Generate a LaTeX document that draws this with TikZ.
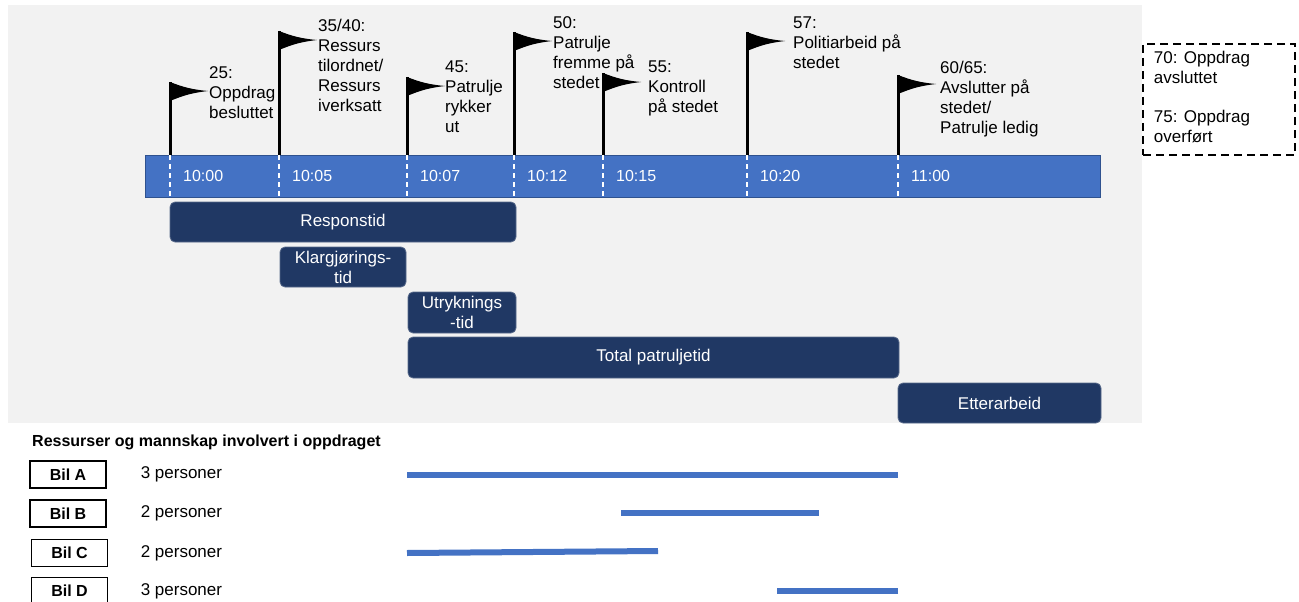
\documentclass[tikz,border=0pt]{standalone}
\usepackage{fontspec}
\setmainfont{Liberation Sans}
\usetikzlibrary{positioning}

\definecolor{axisblue}{HTML}{4472C4}
\definecolor{axisedge}{HTML}{2F528F}
\definecolor{phasenavy}{HTML}{203864}
\definecolor{bggray}{HTML}{F2F2F2}

\begin{document}
\begin{tikzpicture}[x=1pt,y=-1pt]
\tikzstyle{every node}+=[inner sep=0pt, font=\fontsize{17}{20}\selectfont]
\tikzstyle{pole}=[line width=3pt, black]
\tikzstyle{tickline}=[white, line width=2pt, dash pattern=on 5pt off 4pt]
\tikzstyle{flaglabel}=[anchor=north west, align=left]
\tikzstyle{timelabel}=[anchor=west, text=white, font=\fontsize{16}{19}\selectfont]
\tikzstyle{phase}=[fill=phasenavy, draw=phasenavy!75!white, line width=0.8pt, rounded corners=5pt, text=white, align=center]
\tikzstyle{bilbox}=[draw, line width=1.2pt, minimum width=76pt, minimum height=27pt, font=\fontsize{16}{19}\selectfont\bfseries]
\tikzstyle{persons}=[font=\fontsize{17}{20}\selectfont]
\tikzstyle{crew}=[axisblue, line width=6pt]
\useasboundingbox (0,0) rectangle (1299,602);
\fill[white] (0,0) rectangle (1299,602);
\fill[bggray] (8,5) rectangle (1142,423);

% time axis
\node[fill=axisblue, draw=axisedge, line width=0.8pt, minimum width=955pt, minimum height=42pt] (axis) at (622.5,176) {};

% flag texts
\node[flaglabel] (l25) at (209,66) {25:\\Oppdrag\\besluttet};
\node[flaglabel] (l3540) at (318,19) {35/40:\\Ressurs\\tilordnet/\\Ressurs\\iverksatt};
\node[flaglabel] (l45) at (445,61) {45:\\Patrulje\\rykker\\ut};
\node[flaglabel] (l50) at (553,16) {50:\\Patrulje\\fremme på\\stedet};
\node[flaglabel] (l55) at (648,61) {55:\\Kontroll\\på stedet};
\node[flaglabel] (l57) at (793,17) {57:\\Politiarbeid på\\stedet};
\node[flaglabel] (l6065) at (940,61) {60/65:\\Avslutter på\\stedet/\\Patrulje ledig};

% flags
\foreach \px/\ty/\nm in {170/82/f25, 279/31/f3540, 407/77/f45, 514/32/f50, 603/73/f55, 747/32/f57, 898/75/f6065} {
  \coordinate (\nm) at (\px,155);
  \draw[pole] (\nm) -- (\px,\ty);
  \fill (\px,\ty) to[bend right=8] ++(38,9) to[bend right=8] (\px,\ty+19) -- cycle;
  \draw[tickline] (\nm) -- (\px,197);
}
\foreach \nm/\t in {f25/10:00, f3540/10:05, f45/10:07, f50/10:12, f55/10:15, f57/10:20, f6065/11:00}
  \node[timelabel] (t\nm) at ([shift={(13,21)}]\nm) {\t};

% status codes
\node[draw, line width=2.5pt, dash pattern=on 8pt off 5pt, minimum width=152pt, minimum height=111pt] (legend) at (1219,99.5) {};
\node[flaglabel] (legendtxt) at ([shift={(12,8)}]legend.north west) {70: Oppdrag\\avsluttet\\[19pt]75: Oppdrag\\overført};

% phases
\node[phase, minimum width=346pt, minimum height=40pt] (resp) at (343,222) {Responstid};
\node[phase, minimum width=126pt, minimum height=40pt] (klar) at (343,267) {Klargjørings-\\tid};
\node[phase, minimum width=108pt, minimum height=41pt] (utr) at (462,312.5) {Utryknings\\-tid};
\node[phase, minimum width=491pt, minimum height=41pt] (total) at (653.5,357.5) {Total patruljetid};
\node[phase, minimum width=203pt, minimum height=40pt] (etter) at (999.5,403) {Etterarbeid};

% resources
\node[anchor=west, font=\fontsize{16}{19}\selectfont\bfseries] (crewtitle) at (32,442) {Ressurser og mannskap involvert i oppdraget};
\node[bilbox] (bilA) at (68,474.5) {Bil A};
\node[bilbox] (bilB) at (68,513.5) {Bil B};
\node[bilbox] (bilC) at (69.5,553) {Bil C};
\node[bilbox] (bilD) at (69.5,591) {Bil D};
\node[persons, right=34pt of bilA] (persA) {3 personer};
\node[persons, right=34pt of bilB] (persB) {2 personer};
\node[persons, right=32.5pt of bilC] (persC) {2 personer};
\node[persons, right=32.5pt of bilD] (persD) {3 personer};

\draw[crew] (f45 |- persA) -- (f6065 |- persA);
\draw[crew] (621,513) -- (819,513);
\draw[crew] (f45 |- persC) -- ++(251,-2);
\draw[crew] (f6065 |- persD) -- ++(-121,0);
\end{tikzpicture}
\end{document}
